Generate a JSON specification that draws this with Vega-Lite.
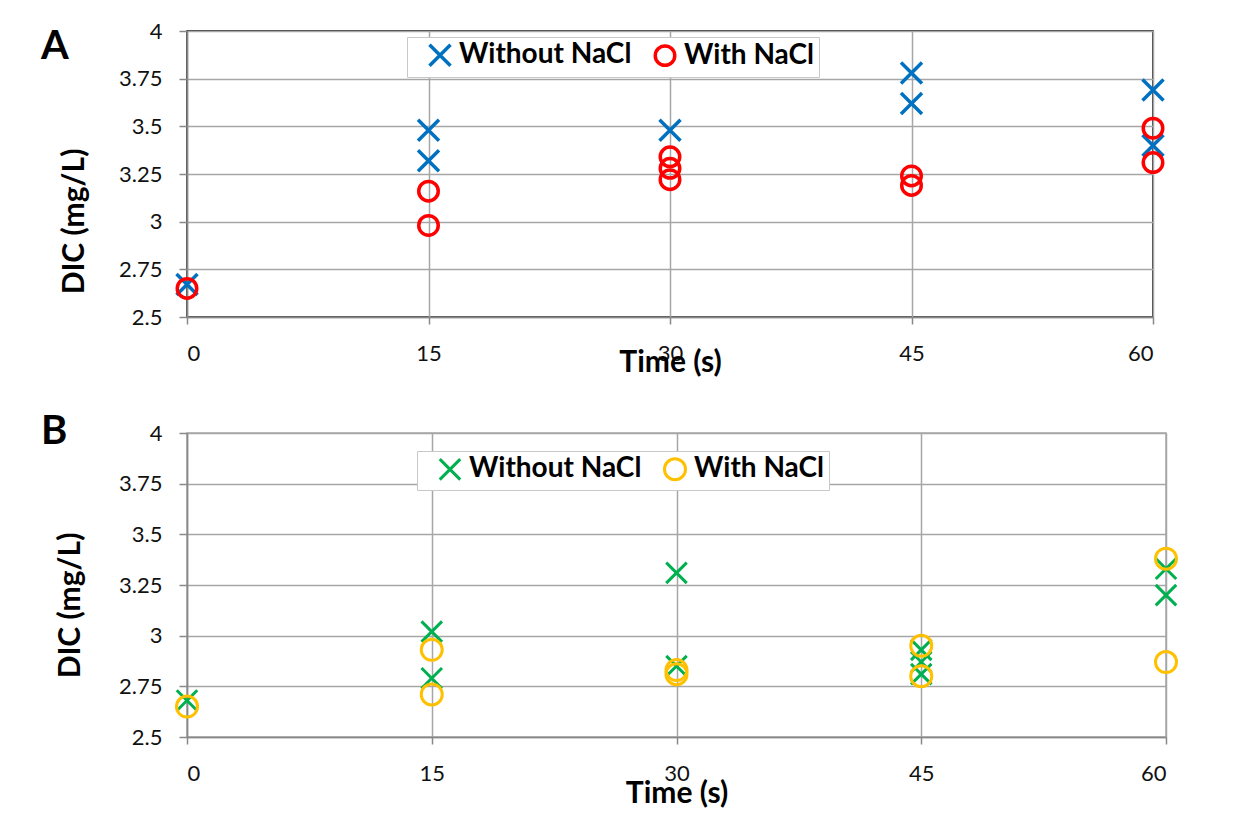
{
  "$schema": "https://vega.github.io/schema/vega-lite/v6.json",
  "autosize": {"type": "pad"},
  "padding": {"left": 40, "top": 19, "right": 0, "bottom": 0},
  "background": "white",
  "spacing": 116,
  "bounds": "flush",
  "resolve": {"scale": {"color": "independent", "shape": "independent", "size": "independent"}, "legend": {"color": "independent", "shape": "independent", "size": "independent"}},
  "config": {
    "font": "Lato",
    "axis": {
      "labelFont": "Lato",
      "labelFontSize": 22,
      "labelColor": "#111",
      "tickColor": "#888",
      "tickWidth": 1.5,
      "tickSize": 7,
      "domainColor": "#888",
      "domainWidth": 1.5,
      "gridColor": "#a6a6a6",
      "gridWidth": 1.5,
      "titleFont": "Lato",
      "titleFontSize": 30,
      "titleFontWeight": "bold",
      "titleColor": "#000"
    },
    "axisX": {"labelPadding": 19, "titleBaseline": "alphabetic"},
    "axisY": {"labelPadding": 17, "tickSize": 8, "titleBaseline": "middle", "titleAngle": -90},
    "legend": {"labelLimit": 500}
  },
  "datasets": {
    "a": [
      {"series": "Without NaCl", "time": 0, "dic": 2.67},
      {"series": "Without NaCl", "time": 15, "dic": 3.48},
      {"series": "Without NaCl", "time": 15, "dic": 3.32},
      {"series": "Without NaCl", "time": 30, "dic": 3.48},
      {"series": "Without NaCl", "time": 45, "dic": 3.78},
      {"series": "Without NaCl", "time": 45, "dic": 3.62},
      {"series": "Without NaCl", "time": 60, "dic": 3.69},
      {"series": "Without NaCl", "time": 60, "dic": 3.4},
      {"series": "With NaCl", "time": 0, "dic": 2.65},
      {"series": "With NaCl", "time": 15, "dic": 3.16},
      {"series": "With NaCl", "time": 15, "dic": 2.98},
      {"series": "With NaCl", "time": 30, "dic": 3.34},
      {"series": "With NaCl", "time": 30, "dic": 3.28},
      {"series": "With NaCl", "time": 30, "dic": 3.22},
      {"series": "With NaCl", "time": 45, "dic": 3.24},
      {"series": "With NaCl", "time": 45, "dic": 3.19},
      {"series": "With NaCl", "time": 60, "dic": 3.49},
      {"series": "With NaCl", "time": 60, "dic": 3.31}
    ],
    "b": [
      {"series": "Without NaCl", "time": 0, "dic": 2.68},
      {"series": "Without NaCl", "time": 15, "dic": 3.02},
      {"series": "Without NaCl", "time": 15, "dic": 2.79},
      {"series": "Without NaCl", "time": 30, "dic": 3.31},
      {"series": "Without NaCl", "time": 30, "dic": 2.85},
      {"series": "Without NaCl", "time": 45, "dic": 2.93},
      {"series": "Without NaCl", "time": 45, "dic": 2.87},
      {"series": "Without NaCl", "time": 45, "dic": 2.81},
      {"series": "Without NaCl", "time": 60, "dic": 3.33},
      {"series": "Without NaCl", "time": 60, "dic": 3.2},
      {"series": "With NaCl", "time": 0, "dic": 2.65},
      {"series": "With NaCl", "time": 15, "dic": 2.93},
      {"series": "With NaCl", "time": 15, "dic": 2.71},
      {"series": "With NaCl", "time": 30, "dic": 2.83},
      {"series": "With NaCl", "time": 30, "dic": 2.81},
      {"series": "With NaCl", "time": 45, "dic": 2.95},
      {"series": "With NaCl", "time": 45, "dic": 2.8},
      {"series": "With NaCl", "time": 60, "dic": 3.38},
      {"series": "With NaCl", "time": 60, "dic": 2.87}
    ]
  },
  "vconcat": [
    {
      "width": 966,
      "height": 286,
      "title": {"text": "A", "anchor": "start", "frame": "group", "dx": -146, "dy": 47, "offset": 0, "fontSize": 40, "fontWeight": "bold", "color": "#000", "font": "Lato"},
      "view": {"stroke": "#000", "strokeWidth": 1.5},
      "data": {"name": "a"},
      "mark": {"type": "point", "filled": false, "strokeWidth": 3.5, "opacity": 1},
      "encoding": {
        "x": {"field": "time", "type": "quantitative", "scale": {"domain": [0, 60]}, "axis": {"values": [0, 15, 30, 45, 60], "title": "Time (s)", "titleY": 54}},
        "y": {"field": "dic", "type": "quantitative", "scale": {"domain": [2.5, 4]}, "axis": {"values": [2.5, 2.75, 3, 3.25, 3.5, 3.75, 4], "format": ".3~g", "title": "DIC (mg/L)", "titleX": -113, "titleY": 190}},
        "color": {"field": "series", "type": "nominal", "sort": null, "scale": {"domain": ["Without NaCl", "With NaCl"], "range": ["#0070C0", "#FF0000"]},
          "legend": {"title": null, "orient": "none", "legendX": 220, "legendY": 6, "direction": "horizontal", "labelFontSize": 28, "labelFontWeight": "bold", "labelColor": "#000", "labelFont": "Lato", "strokeColor": "#c8c8c8", "fillColor": "white", "padding": 4, "symbolSize": 380, "symbolStrokeWidth": 3.5, "symbolOffset": 15, "labelOffset": 5, "columnPadding": 4}},
        "shape": {"field": "series", "type": "nominal", "sort": null, "scale": {"domain": ["Without NaCl", "With NaCl"], "range": ["M-1,-1L1,1M-1,1L1,-1", "circle"]},
          "legend": {"title": null, "orient": "none", "legendX": 220, "legendY": 6, "direction": "horizontal", "labelFontSize": 28, "labelFontWeight": "bold", "labelColor": "#000", "labelFont": "Lato", "strokeColor": "#c8c8c8", "fillColor": "white", "padding": 4, "symbolSize": 380, "symbolStrokeWidth": 3.5, "symbolOffset": 15, "labelOffset": 5, "columnPadding": 4}},
        "size": {"field": "series", "type": "ordinal", "sort": null, "scale": {"domain": ["Without NaCl", "With NaCl"], "range": [441, 380]}, "legend": null}
      }
    },
    {
      "width": 979,
      "height": 304,
      "title": {"text": "B", "anchor": "start", "frame": "group", "dx": -146, "dy": 30, "offset": 0, "fontSize": 40, "fontWeight": "bold", "color": "#000", "font": "Lato"},
      "view": {"stroke": "#a6a6a6", "strokeWidth": 1.5},
      "data": {"name": "b"},
      "mark": {"type": "point", "filled": false, "strokeWidth": 3, "opacity": 1},
      "encoding": {
        "x": {"field": "time", "type": "quantitative", "scale": {"domain": [0, 60]}, "axis": {"values": [0, 15, 30, 45, 60], "title": "Time (s)", "titleY": 65}},
        "y": {"field": "dic", "type": "quantitative", "scale": {"domain": [2.5, 4]}, "axis": {"values": [2.5, 2.75, 3, 3.25, 3.5, 3.75, 4], "format": ".3~g", "title": "DIC (mg/L)", "titleX": -117, "titleY": 172}},
        "color": {"field": "series", "type": "nominal", "sort": null, "scale": {"domain": ["Without NaCl", "With NaCl"], "range": ["#00B050", "#FFC000"]},
          "legend": {"title": null, "orient": "none", "legendX": 230, "legendY": 18, "direction": "horizontal", "labelFontSize": 28, "labelFontWeight": "bold", "labelColor": "#000", "labelFont": "Lato", "strokeColor": "#c8c8c8", "fillColor": "white", "padding": 4, "symbolSize": 340, "symbolStrokeWidth": 3, "symbolOffset": 15, "labelOffset": 5, "columnPadding": 4}},
        "shape": {"field": "series", "type": "nominal", "sort": null, "scale": {"domain": ["Without NaCl", "With NaCl"], "range": ["M-1,-1L1,1M-1,1L1,-1", "circle"]},
          "legend": {"title": null, "orient": "none", "legendX": 230, "legendY": 18, "direction": "horizontal", "labelFontSize": 28, "labelFontWeight": "bold", "labelColor": "#000", "labelFont": "Lato", "strokeColor": "#c8c8c8", "fillColor": "white", "padding": 4, "symbolSize": 340, "symbolStrokeWidth": 3, "symbolOffset": 15, "labelOffset": 5, "columnPadding": 4}},
        "size": {"field": "series", "type": "ordinal", "sort": null, "scale": {"domain": ["Without NaCl", "With NaCl"], "range": [420, 441]}, "legend": null}
      }
    }
  ]
}
